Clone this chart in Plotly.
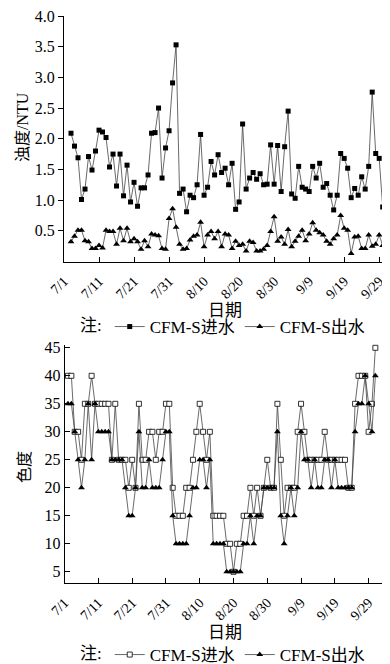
import plotly.graph_objects as go
import pandas as pd

# ---- data ----
top_dates = pd.date_range("2015-07-03", periods=92).strftime("%Y-%m-%d").tolist()
turb_in = [2.09, 1.88, 1.69, 1.01, 1.18, 1.71, 1.49, 1.80, 2.14, 2.11,
           2.02, 1.54, 1.75, 1.23, 1.75, 1.07, 1.57, 0.97, 1.29, 0.90,
           1.20, 1.20, 1.41, 2.09, 2.10, 2.50, 1.36, 1.85, 2.13, 2.91,
           3.53, 1.11, 1.18, 0.81, 1.08, 1.04, 1.25, 2.07, 1.08, 1.21,
           1.63, 1.41, 1.74, 1.45, 1.52, 1.25, 1.60, 0.85, 0.97, 2.24,
           1.18, 1.36, 1.45, 1.34, 1.43, 1.25, 1.26, 1.90, 1.26, 1.89,
           1.14, 1.87, 2.45, 1.10, 1.03, 1.55, 1.21, 1.18, 1.14, 1.55,
           1.36, 1.60, 1.21, 1.27, 1.08, 0.84, 1.08, 1.76, 1.68, 1.52,
           1.04, 1.19, 1.08, 1.38, 1.18, 1.55, 2.76, 1.76, 1.68, 0.89,
           1.52, 2.19]
turb_out = [0.32, 0.41, 0.51, 0.51, 0.34, 0.32, 0.21, 0.21, 0.26, 0.22,
            0.51, 0.49, 0.49, 0.28, 0.54, 0.34, 0.54, 0.32, 0.37, 0.32,
            0.20, 0.34, 0.24, 0.45, 0.43, 0.42, 0.21, 0.20, 0.70, 0.86,
            0.56, 0.28, 0.20, 0.21, 0.35, 0.41, 0.43, 0.64, 0.24, 0.43,
            0.49, 0.37, 0.49, 0.24, 0.45, 0.43, 0.21, 0.33, 0.26, 0.28,
            0.17, 0.33, 0.31, 0.17, 0.17, 0.20, 0.26, 0.49, 0.73, 0.33,
            0.40, 0.28, 0.52, 0.24, 0.33, 0.41, 0.51, 0.34, 0.45, 0.63,
            0.51, 0.47, 0.43, 0.33, 0.28, 0.37, 0.43, 0.75, 0.54, 0.51,
            0.13, 0.40, 0.41, 0.21, 0.21, 0.43, 0.25, 0.28, 0.43, 0.26,
            0.54, 0.40]

bot_dates = pd.date_range("2015-07-02", periods=92).strftime("%Y-%m-%d").tolist()
color_in = [40, 40, 30, 30, 25, 35, 35, 40, 35, 35,
            35, 35, 35, 25, 35, 25, 25, 25, 20, 25,
            20, 35, 25, 25, 30, 30, 25, 30, 30, 35,
            35, 20, 15, 15, 15, 20, 20, 25, 30, 35,
            30, 25, 30, 15, 15, 15, 15, 10, 10, 5,
            10, 10, 15, 15, 20, 15, 20, 15, 20, 25,
            20, 20, 35, 25, 15, 20, 20, 20, 30, 35,
            30, 25, 25, 25, 25, 25, 30, 25, 25, 25,
            25, 25, 25, 20, 20, 35, 40, 40, 40, 30,
            35, 45]
color_out = [35, 35, 30, 25, 20, 25, 35, 25, 35, 30,
             30, 30, 30, 25, 25, 25, 25, 20, 15, 15,
             20, 30, 20, 20, 25, 20, 20, 20, 25, 30,
             30, 15, 10, 10, 10, 10, 15, 20, 20, 25,
             25, 20, 25, 10, 10, 10, 10, 5, 5, 5,
             5, 5, 10, 10, 15, 10, 15, 15, 20, 20,
             20, 20, 30, 15, 10, 15, 20, 15, 20, 30,
             25, 25, 20, 25, 20, 20, 25, 25, 20, 25,
             20, 20, 20, 20, 20, 30, 35, 35, 40, 35,
             30, 40]

tick_dates = ["2015-07-01", "2015-07-11", "2015-07-21", "2015-07-31", "2015-08-10",
              "2015-08-20", "2015-08-30", "2015-09-09", "2015-09-19", "2015-09-29"]
tick_labels = ["7/1", "7/11", "7/21", "7/31", "8/10", "8/20", "8/30", "9/9", "9/19", "9/29"]
turb_ticks = [0.5, 1.0, 1.5, 2.0, 2.5, 3.0, 3.5, 4.0]
color_ticks = [5, 10, 15, 20, 25, 30, 35, 40, 45]

# ---- figure ----
SERIF = "Liberation Serif, Times New Roman, Noto Sans CJK SC, serif"
LINE = dict(color="#444444", width=0.8)
OFF = 8                      # page body margin
W, H = 390 - OFF, 664 - OFF  # figure size so that the page fits the window

def px_x(px):
    return (px - OFF) / W

def py(px):
    return (H - (px - OFF)) / H

fig = go.Figure()
fig.add_trace(go.Scatter(x=top_dates, y=turb_in, mode="lines+markers", name="CFM-S进水",
                         line=LINE, marker=dict(symbol="square", size=5, color="black"),
                         xaxis="x", yaxis="y", legend="legend", cliponaxis=False))
fig.add_trace(go.Scatter(x=top_dates, y=turb_out, mode="lines+markers", name="CFM-S出水",
                         line=LINE, marker=dict(symbol="triangle-up", size=6, color="black"),
                         xaxis="x", yaxis="y", legend="legend", cliponaxis=False))
fig.add_trace(go.Scatter(x=bot_dates, y=color_in, mode="lines+markers", name="CFM-S进水",
                         line=LINE, marker=dict(symbol="square", size=5, color="white",
                                                line=dict(color="black", width=0.8)),
                         xaxis="x2", yaxis="y2", legend="legend2", cliponaxis=False))
fig.add_trace(go.Scatter(x=bot_dates, y=color_out, mode="lines+markers", name="CFM-S出水",
                         line=LINE, marker=dict(symbol="triangle-up", size=6, color="black"),
                         xaxis="x2", yaxis="y2", legend="legend2", cliponaxis=False))

common_x = dict(type="date", tickvals=tick_dates, ticktext=tick_labels, tickangle=-45,
                ticks="inside", ticklen=5, tickcolor="black", showline=True,
                linecolor="black", linewidth=1, showgrid=False, zeroline=False,
                automargin=False, ticklabeloverflow="allow", ticklabelstandoff=5,
                tickfont=dict(family=SERIF, size=14, color="black"))
common_y = dict(showline=True, linecolor="black", linewidth=1, showgrid=False,
                zeroline=False, ticklen=5, tickcolor="black", automargin=False,
                ticklabeloverflow="allow",
                tickfont=dict(family=SERIF, size=16, color="black"))

leg_common = dict(orientation="h", xanchor="center", yanchor="middle",
                  title=dict(text="注:", side="left", font=dict(family=SERIF, size=17)),
                  font=dict(family=SERIF, size=17, color="black"), bgcolor="rgba(0,0,0,0)",
                  itemwidth=30, tracegroupgap=0)

def label(text, x, y, angle=0, size=16):
    return dict(text=text, x=px_x(x), y=py(y), xref="paper", yref="paper",
                xanchor="center", yanchor="middle", textangle=angle, showarrow=False,
                font=dict(family=SERIF, size=size, color="black"))

fig.update_layout(
    width=W, height=H, margin=dict(l=0, r=0, t=0, b=0, autoexpand=False),
    plot_bgcolor="white", paper_bgcolor="white",
    xaxis=dict(domain=[px_x(64), 1], anchor="y", range=["2015-07-01", "2015-10-02 02:00"], **common_x),
    yaxis=dict(domain=[py(261.5), py(16)], anchor="x", range=[0, 4.0], tickvals=turb_ticks,
               ticktext=[f"{v:.1f}" for v in turb_ticks], ticks="outside", **common_y),
    xaxis2=dict(domain=[px_x(64.6), 1], anchor="y2", range=["2015-07-01", "2015-10-05 08:00"], **common_x),
    yaxis2=dict(domain=[py(583), py(345)], anchor="x2", range=[3, 45.5], tickvals=color_ticks,
                ticks="inside", **common_y),
    legend=dict(x=px_x(224), y=py(327), **leg_common),
    legend2=dict(x=px_x(224), y=py(655), **leg_common),
    annotations=[
        label("浊度/NTU", 22, 127, angle=-90),
        label("色度", 24, 467, angle=-90),
        label("日期", 225, 310, size=17),
        label("日期", 225, 632, size=17),
    ],
)

fig.write_html("out.html")
